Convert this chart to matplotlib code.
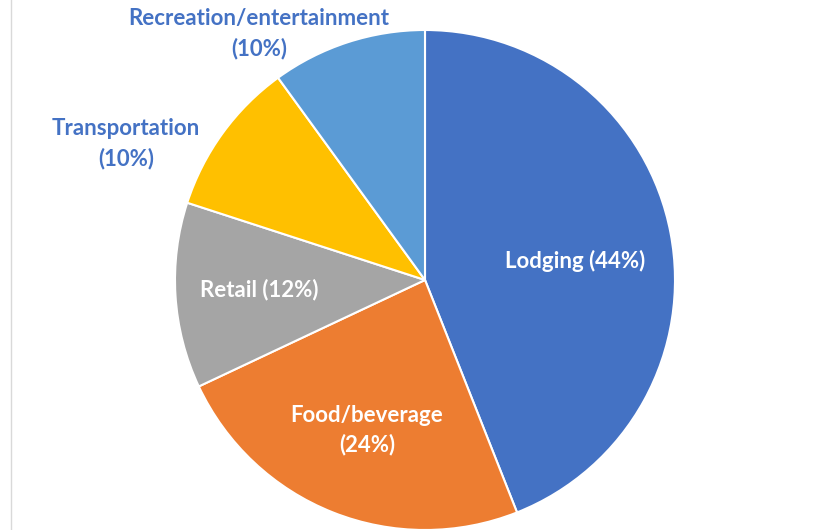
import matplotlib.pyplot as plt
from matplotlib.lines import Line2D

# shares of spending by category
categories = ['Lodging', 'Food/beverage', 'Retail', 'Transportation', 'Recreation/entertainment']
shares = [44, 24, 12, 10, 10]
colors = ['#4472C4', '#ED7D31', '#A5A5A5', '#FFC000', '#5B9BD5']

# label text: inside labels on one/two lines, outside labels in blue
label_texts = ['Lodging (44%)', 'Food/beverage\n(24%)', 'Retail (12%)',
               'Transportation\n(10%)', 'Recreation/entertainment\n(10%)']
label_pos = [(0.60, 0.076), (-0.232, -0.60), (-0.664, -0.04), (-1.196, 0.545), (-0.664, 0.985)]
label_colors = ['white', 'white', 'white', '#4472C4', '#4472C4']

fig = plt.figure(figsize=(8.31, 5.30), dpi=100)
ax = fig.add_axes([175 / 831, 0, 500 / 831, 500 / 530])

ax.pie(shares, colors=colors, startangle=90, counterclock=False, radius=1,
       wedgeprops=dict(edgecolor='white', linewidth=1.5))
ax.set_xlim(-1, 1)
ax.set_ylim(-1, 1)
ax.set_aspect('equal')
ax.axis('off')

for txt, (x, y), c in zip(label_texts, label_pos, label_colors):
    ax.text(x, y, txt, color=c, ha='center', va='center', fontsize=16,
            fontweight='bold', family='Lato', linespacing=1.45, clip_on=False)

# thin gray border at the left edge
fig.add_artist(Line2D([10.5 / 831, 10.5 / 831], [0, 1], color='#D9D9D9', linewidth=1))

fig.savefig('out.png', dpi=100)
